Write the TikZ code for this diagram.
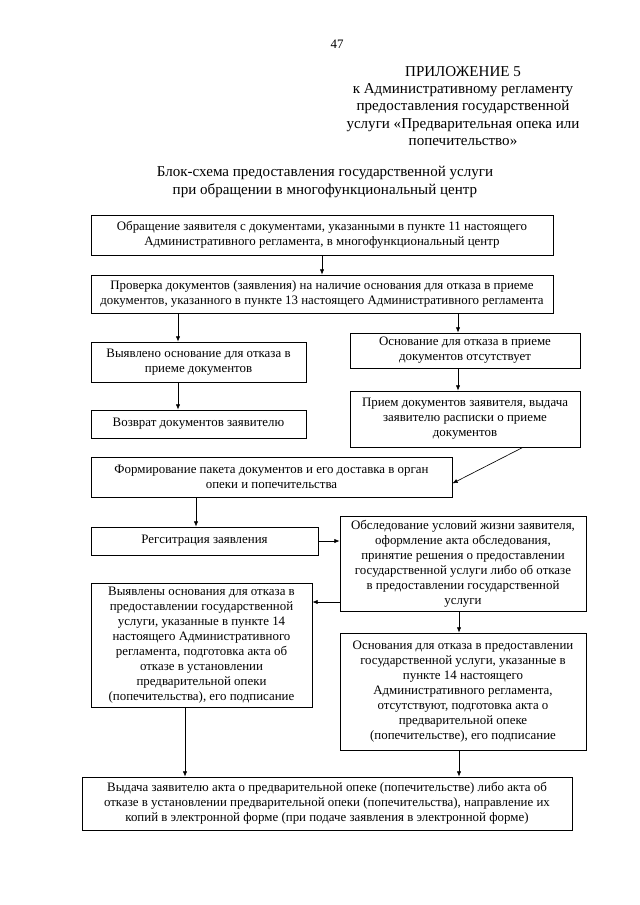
\documentclass[tikz,border=0pt]{standalone}
\usepackage{fontspec}
\setmainfont{Liberation Serif}
\usetikzlibrary{arrows.meta}
\tikzset{
  blk/.style={draw, line width=0.6pt, align=center, inner sep=2pt,
    font=\fontsize{12}{14}\selectfont},
  sz/.style 2 args={minimum width=#1*0.93pt, minimum height=#2*0.93pt},
  arr/.style={line width=0.6pt, -{Latex[length=5pt,width=4pt]}},
}
\begin{document}
\begin{tikzpicture}[x=0.93pt, y=-0.93pt]
  \useasboundingbox (0,0) rectangle (640,905);
  % 页码与标题
  \node[font=\fontsize{12}{14}\selectfont] (pg) at (337,44) {47};
  \node[align=center, font=\fontsize{14}{16}\selectfont] (pril) at (463,106)
    {ПРИЛОЖЕНИЕ 5\\к Административному регламенту\\предоставления государственной\\услуги «Предварительная опека или\\попечительство»};
  \node[align=center, font=\fontsize{14}{16}\selectfont] (ttl) at (325,182)
    {Блок-схема предоставления государственной услуги\\при обращении в многофункциональный центр};
  % 框
  \node[blk, sz={462}{40}] (obr) at (322,235)
    {Обращение заявителя с документами, указанными в пункте 11 настоящего\\Административного регламента, в многофункциональный центр};
  \node[blk, sz={462}{38}] (prov) at (322,294)
    {Проверка документов (заявления) на наличие основания для отказа в приеме\\документов, указанного в пункте 13 настоящего Административного регламента};
  \node[blk, sz={215}{40}] (otk) at (198.5,362)
    {Выявлено основание для отказа в\\приеме документов};
  \node[blk, sz={215}{28}] (vozv) at (198.5,424)
    {Возврат документов заявителю};
  \node[blk, sz={230}{35}] (net) at (465,350.5)
    {Основание для отказа в приеме\\документов отсутствует};
  \node[blk, sz={230}{56}] (priem) at (465,419)
    {Прием документов заявителя, выдача\\заявителю расписки о приеме\\документов};
  \node[blk, sz={361}{40}] (form) at (271.5,477)
    {Формирование пакета документов и его доставка в орган\\опеки и попечительства};
  \node[blk, sz={227}{28}] (reg) at (204.5,541)
    {Регситрация заявления};
  \node[blk, sz={246}{95}] (obsl) at (463,563.5)
    {Обследование условий жизни заявителя,\\оформление акта обследования,\\принятие решения о предоставлении\\государственной услуги либо об отказе\\в предоставлении государственной\\услуги};
  \node[blk, sz={221}{124}] (vyyav) at (201.5,645)
    {Выявлены основания для отказа в\\предоставлении государственной\\услуги, указанные в пункте 14\\настоящего Административного\\регламента, подготовка акта об\\отказе в установлении\\предварительной опеки\\(попечительства), его подписание};
  \node[blk, sz={246}{117}] (otsut) at (463,691.5)
    {Основания для отказа в предоставлении\\государственной услуги, указанные в\\пункте 14 настоящего\\Административного регламента,\\отсутствуют, подготовка акта о\\предварительной опеке\\(попечительстве), его подписание};
  \node[blk, sz={490}{53}] (vyd) at (327,803.5)
    {Выдача заявителю акта о предварительной опеке (попечительстве) либо акта об\\отказе в установлении предварительной опеки (попечительства), направление их\\копий в электронной форме (при подаче заявления в электронной форме)};
  % 连线的竖直位置
  \coordinate (cA) at (178,0);
  \coordinate (cB) at (458,0);
  \coordinate (cC) at (196,0);
  \coordinate (cD) at (185,0);
  \coordinate (cE) at (459,0);
  \coordinate (dg) at (523,0);
  \coordinate (ya) at (0,602);
  % 箭头
  \draw[arr] (obr.south) -- (prov.north);
  \draw[arr] (cA |- prov.south) -- (cA |- otk.north);
  \draw[arr] (cA |- otk.south) -- (cA |- vozv.north);
  \draw[arr] (cB |- prov.south) -- (cB |- net.north);
  \draw[arr] (cB |- net.south) -- (cB |- priem.north);
  \draw[arr] (dg |- priem.south) -- ([yshift=-6pt]form.east);
  \draw[arr] (cC |- form.south) -- (cC |- reg.north);
  \draw[arr] (reg.east) -- (reg.east -| obsl.west);
  \draw[arr] (ya -| obsl.west) -- (ya -| vyyav.east);
  \draw[arr] (cE |- obsl.south) -- (cE |- otsut.north);
  \draw[arr] (cD |- vyyav.south) -- (cD |- vyd.north);
  \draw[arr] (cE |- otsut.south) -- (cE |- vyd.north);
\end{tikzpicture}
\end{document}
